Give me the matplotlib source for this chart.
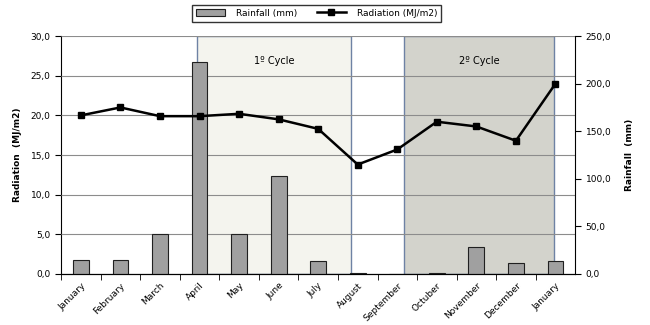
import matplotlib.pyplot as plt
from matplotlib.ticker import FuncFormatter, MultipleLocator
from matplotlib.lines import Line2D
from matplotlib.patches import Patch

months = ['January', 'February', 'March', 'April', 'May', 'June', 'July',
          'August', 'September', 'Octuber', 'November', 'December', 'January']
radiation = [20.0, 21.0, 19.9, 19.9, 20.2, 19.5, 18.3, 13.8, 15.7, 19.2, 18.6, 16.8, 24.0]
rainfall = [15.0, 15.0, 41.7, 223.0, 41.7, 103.0, 14.0, 1.2, 0.0, 1.2, 28.0, 11.5, 13.5]
cycles = [('1º Cycle', 2.93, 6.83, '#f4f4ee'), ('2º Cycle', 8.17, 11.97, '#d3d3cc')]

plt.rcParams['font.family'] = 'DejaVu Sans'
plt.rcParams['font.size'] = 6.5

fig = plt.figure(figsize=(6.5, 3.25), dpi=100)
ax = fig.add_axes([0.094, 0.157, 0.791, 0.732])
x = list(range(len(months)))

# cycle boxes behind everything, borders over the grid
for name, x0, x1, fc in cycles:
    ax.axvspan(x0, x1, facecolor=fc, edgecolor='none', zorder=0)
    ax.axvspan(x0, x1, facecolor='none', edgecolor='#6e82a4',
               linewidth=1.0, zorder=1.5)
    ax.text((x0 + x1) / 2, 26.9, name, ha='center', va='center', fontsize=7)

ax.set_xlim(-0.5, len(months) - 0.5)
ax.set_ylim(0, 30)
ax.yaxis.set_major_locator(MultipleLocator(5))
ax.yaxis.grid(True, color='#8c8c8c', linewidth=0.8, zorder=1)
ax.set_axisbelow(False)
comma = FuncFormatter(lambda v, p: f'{v:.1f}'.replace('.', ','))
ax.yaxis.set_major_formatter(comma)
ax.set_ylabel('Radiation  (MJ/m2)', fontweight='bold', fontsize=6.5, labelpad=6)
ax.set_xticks(x)
ax.set_xticklabels(months, rotation=45, ha='right', rotation_mode='anchor')
ax.tick_params(axis='x', length=0, pad=5)
ax.set_xticks([i + 0.5 for i in x[:-1]] + [-0.5], minor=True)
ax.tick_params(axis='x', which='minor', length=4, direction='out')
ax.tick_params(axis='y', length=4, direction='out')
for s in ['top', 'right']:
    ax.spines[s].set_visible(False)

# rainfall bars on the right axis
ax2 = ax.twinx()
ax2.bar(x, rainfall, width=0.4, color='#a0a0a0', edgecolor='#202020',
        linewidth=0.8, zorder=2)
ax2.set_ylim(0, 250)
ax2.yaxis.set_major_locator(MultipleLocator(50))
ax2.yaxis.set_major_formatter(comma)
ax2.set_ylabel('Rainfall  (mm)', fontweight='bold', fontsize=6.5, labelpad=10)
ax2.tick_params(axis='y', length=4, direction='out')
ax2.spines['top'].set_visible(False)
ax2.spines['left'].set_visible(False)

# radiation line on top
ax3 = ax.twinx()
ax3.plot(x, radiation, color='black', linewidth=1.8, marker='s', markersize=5)
ax3.set_ylim(0, 30)
ax3.axis('off')

handles = [Patch(facecolor='#a0a0a0', edgecolor='#202020', linewidth=0.8),
           Line2D([], [], color='black', linewidth=1.8, marker='s', markersize=4)]
fig.legend(handles, ['Rainfall (mm)', 'Radiation (MJ/m2)'], loc='upper center',
           bbox_to_anchor=(0.487, 1.0), ncol=2, frameon=True, fancybox=False,
           edgecolor='black', fontsize=6.5, handlelength=3.2, columnspacing=2.2,
           borderpad=0.45, handletextpad=1.2)

fig.savefig('out.png', dpi=100)
